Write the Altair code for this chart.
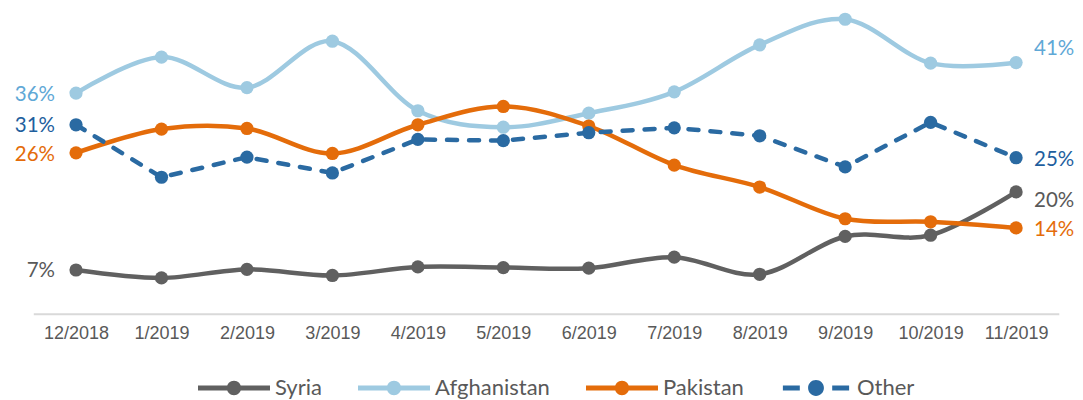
import altair as alt
import pandas as pd

months = ['12/2018', '1/2019', '2/2019', '3/2019', '4/2019', '5/2019',
          '6/2019', '7/2019', '8/2019', '9/2019', '10/2019', '11/2019']
series_names = ['Syria', 'Afghanistan', 'Pakistan', 'Other']
syria = [7.0, 5.7, 7.1, 6.1, 7.5, 7.4, 7.3, 9.1, 6.3, 12.5, 12.7, 19.8]
afghanistan = [36.0, 41.9, 36.9, 44.5, 33.1, 30.4, 32.7, 36.2, 43.9, 48.1, 40.9, 41.0]
pakistan = [26.2, 30.1, 30.2, 26.1, 30.8, 33.8, 30.6, 24.2, 20.6, 15.4, 14.9, 13.9]
other = [30.8, 22.2, 25.5, 22.9, 28.4, 28.2, 29.5, 30.3, 29.0, 23.9, 31.2, 25.4]

line_colors = ['#606060', '#9ECAE1', '#E46C0A', '#2A6AA2']
label_colors = ['#595959', '#5FA8D6', '#E46C0A', '#1F5F9E']

values = {'Syria': syria, 'Afghanistan': afghanistan, 'Pakistan': pakistan, 'Other': other}
rows = []
for s in series_names:
    for m, v in zip(months, values[s]):
        rows.append({'month': m, 'series': s, 'value': v})
df = pd.DataFrame(rows)

# legend symbols: line with circle in the middle (solid / dashed)
solid_sym = ("M-1,-0.07H-0.18V0.07H-1Z M0.18,-0.07H1V0.07H0.18Z "
             "M-0.2,0A0.2,0.2 0 1,1 0.2,0A0.2,0.2 0 1,1 -0.2,0Z")
dash_sym = ("M-0.92,-0.07H-0.45V0.07H-0.92Z M0.45,-0.07H0.92V0.07H0.45Z "
            "M-0.22,0A0.22,0.22 0 1,1 0.22,0A0.22,0.22 0 1,1 -0.22,0Z")
symbols = [solid_sym, solid_sym, solid_sym, dash_sym]

x_enc = alt.X('month:N', sort=months,
              scale=alt.Scale(type='point', padding=0.5),
              axis=alt.Axis(title=None, labelAngle=0, ticks=False, grid=False,
                            labelFont='Liberation Sans', labelFontSize=18,
                            labelColor='#595959', labelPadding=11,
                            domainColor='#D9D9D9', domainWidth=2, offset=1))
y_enc = alt.Y('value:Q', scale=alt.Scale(domain=[0, 49.5]), axis=None)

layers = []
for i, s in enumerate(series_names):
    sub = alt.Chart(df).transform_filter(alt.datum.series == s).encode(
        x=x_enc, y=y_enc, color=alt.value(line_colors[i]))
    if s == 'Other':
        line = sub.mark_line(strokeWidth=4.5, strokeCap='round', strokeDash=[10, 12])
    else:
        line = sub.mark_line(strokeWidth=4.5, strokeCap='round',
                             interpolate='cardinal', tension=0)
    pts = sub.mark_circle(size=175, opacity=1)
    layers += [line, pts]

left_dy = {'Syria': 1, 'Afghanistan': 2, 'Pakistan': 2, 'Other': 1}
right_dy = {'Syria': 9, 'Afghanistan': -14, 'Pakistan': 2, 'Other': 2}
for i, s in enumerate(series_names):
    for m, align, dx, dys in [(months[0], 'right', -21, left_dy),
                               (months[-1], 'left', 18, right_dy)]:
        t = (alt.Chart(df)
             .transform_filter((alt.datum.series == s) & (alt.datum.month == m))
             .transform_calculate(label="format(datum.value, '.0f') + '%'")
             .mark_text(align=align, baseline='middle', dx=dx, dy=dys[s],
                        font='Lato', fontSize=20.5, color=label_colors[i])
             .encode(x=x_enc, y=y_enc, text='label:N'))
        layers.append(t)

legend_layer = (alt.Chart(df)
                .transform_filter('false')
                .mark_point(filled=True)
                .encode(x=x_enc, y=y_enc,
                        color=alt.Color('series:N',
                                        scale=alt.Scale(domain=series_names, range=line_colors),
                                        legend=alt.Legend(title=None)),
                        shape=alt.Shape('series:N',
                                        scale=alt.Scale(domain=series_names, range=symbols),
                                        legend=alt.Legend(title=None))))
layers.append(legend_layer)

chart = (alt.layer(*layers)
         .properties(width=1025.5, height=302,
                     padding={'left': 25.3, 'top': 2.7, 'right': 16.2, 'bottom': 87.3},
                     autosize=alt.AutoSizeParams(type='none'),
                     background='white')
         .configure_view(stroke=None)
         .configure_legend(orient='none', legendX=164.7, legendY=341.3,
                           direction='horizontal', padding=0,
                           labelFont='Lato', labelFontSize=22, labelColor='#595959',
                           symbolSize=5184, symbolStrokeWidth=0, labelOffset=5,
                           columnPadding=36, symbolOpacity=1))

chart.save('out.html', embed_options={'renderer': 'svg', 'actions': False})
